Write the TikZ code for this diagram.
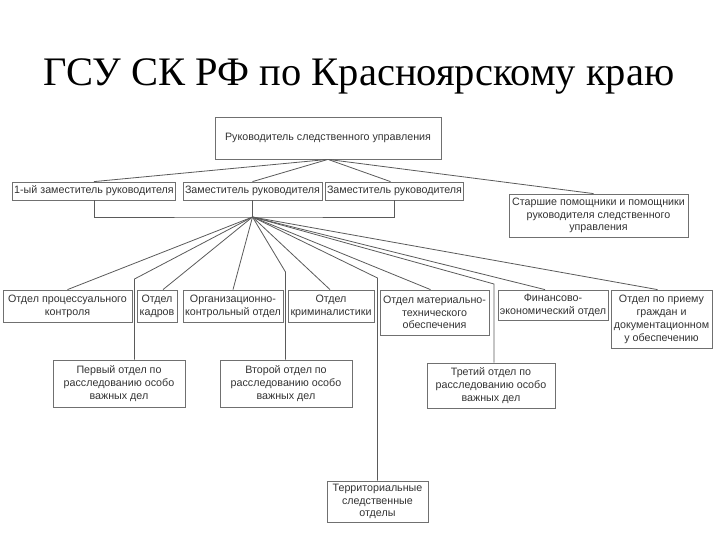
\documentclass[tikz,border=0pt]{standalone}
\usepackage{fontspec}
\setmainfont{Liberation Serif}
\newfontfamily\boxfont{Liberation Sans}
\usetikzlibrary{positioning,calc}
\definecolor{inkgray}{HTML}{333333}
\definecolor{boxgray}{HTML}{707070}
\definecolor{linegray}{HTML}{5A5A5A}

\begin{document}
\begin{tikzpicture}[
    x=1pt, y=-1pt,
    title/.style={font=\fontsize{40.5}{44}\selectfont, anchor=base},
    unit/.style={draw=boxgray, line width=0.8pt, fill=white, align=center, inner sep=1.5pt,
        text=inkgray, font=\boxfont\fontsize{10.7}{12.8}\selectfont},
    link/.style={draw=linegray, line width=0.8pt},
]
    \useasboundingbox (0,0) rectangle (720,540);

    % =====================================================================
    % TITLE
    % =====================================================================
    \node[title] (heading) at (359,86) {ГСУ СК РФ по Красноярскому краю};

    % =====================================================================
    % HEAD AND DEPUTIES
    % =====================================================================
    \node[unit, minimum width=226pt, minimum height=42pt] (head) at (328,138) {Руководитель следственного управления};

    \node[unit, minimum width=162pt, minimum height=18pt] (dep1) at (94,191) {1-ый заместитель руководителя};
    \node[unit, minimum width=139pt, minimum height=18pt] (dep2) at (252.5,191) {Заместитель руководителя};
    \node[unit, minimum width=137pt, minimum height=18pt] (dep3) at (394.5,191) {Заместитель руководителя};
    \node[unit, minimum width=179pt, minimum height=43pt] (aides) at (598.5,215.5)
        {Старшие помощники и помощники\\руководителя следственного\\управления};

    \draw[link] (head.south) -- (dep1.north);
    \draw[link] (head.south) -- (dep2.north);
    \draw[link] (head.south) -- ([xshift=-4pt]dep3.north);
    \draw[link] (head.south) -- ([xshift=-5pt]aides.north);

    \coordinate (hub) at (252.5,217);
    \draw[link] (dep1.south) |- (hub) -| (dep3.south);
    \draw[link] (dep2.south) -- (hub);

    % =====================================================================
    % DEPARTMENTS
    % =====================================================================
    \node[unit, minimum width=129pt, minimum height=32pt] (proc) at (67.5,306) {Отдел процессуального\\контроля};
    \node[unit, minimum width=40pt, minimum height=32pt] (kadr) at (157,306) {Отдел\\кадров};
    \node[unit, minimum width=100pt, minimum height=32pt] (org) at (233,306) {Организационно-\\контрольный отдел};
    \node[unit, minimum width=86pt, minimum height=32pt] (crim) at (331,306) {Отдел\\криминалистики};
    \node[unit, minimum width=109pt, minimum height=45pt] (mat) at (434.5,312.5) {Отдел материально-\\технического\\обеспечения};
    \node[unit, minimum width=110pt, minimum height=30pt] (fin) at (553,305) {Финансово-\\экономический отдел};
    \node[unit, minimum width=101pt, minimum height=58pt, font=\boxfont\fontsize{10.7}{13}\selectfont] (recep) at (661.5,319)
        {Отдел по приему\\граждан и\\документационном\\у обеспечению};

    \node[unit, minimum width=132pt, minimum height=47pt] (first) at (119,383.5) {Первый отдел по\\расследованию особо\\важных дел};
    \node[unit, minimum width=132pt, minimum height=47pt] (second) at (286,383.5) {Второй отдел по\\расследованию особо\\важных дел};
    \node[unit, minimum width=128pt, minimum height=45pt] (third) at (491,385.5) {Третий отдел по\\расследованию особо\\важных дел};
    \node[unit, minimum width=101pt, minimum height=41pt] (terr) at (377.5,501.5) {Территориальные\\следственные\\отделы};

    % bends of the long connectors
    \coordinate (bend1) at (134.5,279);
    \coordinate (bend2) at (285.5,272);
    \coordinate (bend3) at (494,284);
    \coordinate (bendT) at (377.5,278);

    \foreach \dept/\dx in {proc/0, kadr/6, org/0, crim/-1, mat/-4, fin/-8, recep/-4}
        \draw[link] (hub) -- ([xshift=\dx pt]\dept.north);

    \draw[link] (hub) -- (bend1) -- (bend1 |- first.north);
    \draw[link] (hub) -- (bend2) -- (bend2 |- second.north);
    \draw[link] (hub) -- (bend3) -- (bend3 |- third.north);
    \draw[link] (hub) -- (bendT) -- (terr.north);

\end{tikzpicture}
\end{document}
